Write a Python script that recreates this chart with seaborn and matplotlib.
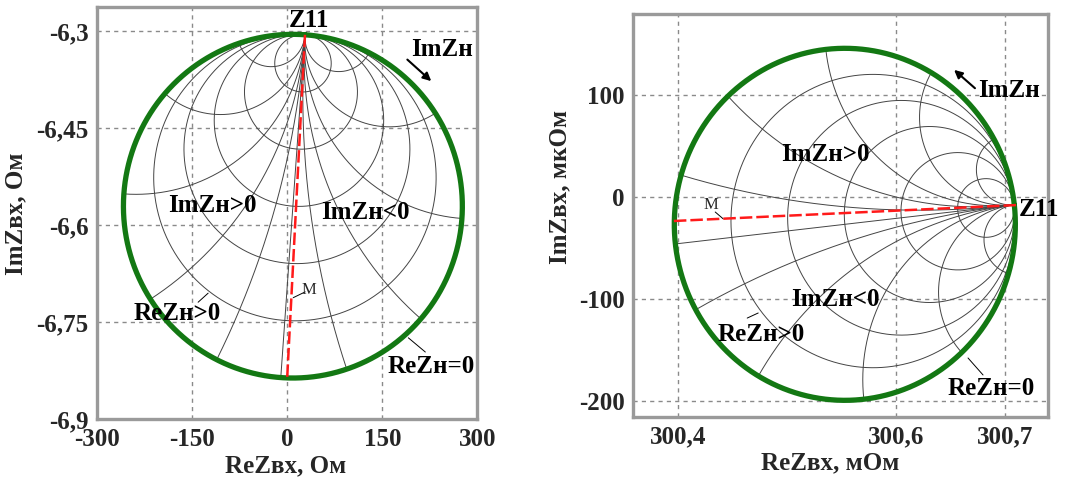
import numpy as np
import matplotlib
matplotlib.use("Agg")
import matplotlib.pyplot as plt
import seaborn as sns

# circle of ReZн = 0 for each panel: centre, half-axes (data units), direction of Z11 (deg)
left_center = (9.0, -6.5705)
left_radius = (267.3, 0.2657)
left_z11_angle = 85.9
right_center = (300.5531, -26.9)
right_radius = (0.1567, 172.9)
right_z11_angle = 6.4

# grid levels of the load impedance (normalised)
re_levels = [0.2, 0.5, 1, 2, 5]
im_levels = [-5, -2, -1, -0.5, -0.2, 0, 0.2, 0.5, 1, 2, 5]

# red line Z11 -> M
left_red_x = [28.1, 0.0]
left_red_y = [-6.3055, -6.836]
right_red_x = [300.7104, 300.3945]
right_red_y = [-8.0, -23.7]

# axes
left_xticks = [-300, -150, 0, 150, 300]
left_xticklabels = ["-300", "-150", "0", "150", "300"]
left_yticks = [-6.3, -6.45, -6.6, -6.75, -6.9]
left_yticklabels = ["-6,3", "-6,45", "-6,6", "-6,75", "-6,9"]
right_xticks = [300.4, 300.6, 300.7]
right_xticklabels = ["300,4", "300,6", "300,7"]
right_yticks = [100, 0, -100, -200]
right_yticklabels = ["100", "0", "-100", "-200"]

GREEN = "#137813"
RED = "#ff1a1a"
GRIDC = "#8a8a8a"
ARC = "#444444"
FS = 18


def to_plot(z, center, radius, angle):
    g = (z - 1) / (z + 1)
    w = g * np.exp(1j * np.deg2rad(angle))
    return center[0] + radius[0] * w.real, center[1] + radius[1] * w.imag


def draw_smith(ax, center, radius, angle):
    t = np.linspace(-np.pi / 2 + 1e-4, np.pi / 2 - 1e-4, 700)
    for r in re_levels:
        x, y = to_plot(r + 1j * np.tan(t), center, radius, angle)
        ax.plot(x, y, color=ARC, lw=0.7, zorder=2)
    s = np.linspace(0, np.pi / 2 - 1e-4, 500)
    for xi in im_levels:
        x, y = to_plot(np.tan(s) + 1j * xi, center, radius, angle)
        ax.plot(x, y, color=ARC, lw=0.7, zorder=2)
    x, y = to_plot(0 + 1j * np.tan(t), center, radius, angle)
    sns.lineplot(x=x, y=y, sort=False, estimator=None, color=GREEN, lw=3.8,
                 ax=ax, zorder=4)


def style_axes(ax, xlim, ylim, xticks, xlabels, yticks, ylabels):
    ax.set_xlim(*xlim)
    ax.set_ylim(*ylim)
    ax.set_xticks(xticks)
    ax.set_xticklabels(xlabels)
    ax.set_yticks(yticks)
    ax.set_yticklabels(ylabels)
    ax.tick_params(length=0, labelsize=FS, pad=6)
    for lab in ax.get_xticklabels() + ax.get_yticklabels():
        lab.set_fontweight("bold")
    ax.grid(True, color=GRIDC, lw=1.0, ls=(0, (3, 3)))
    ax.set_axisbelow(True)
    for sp in ax.spines.values():
        sp.set_color("#9a9a9a")
        sp.set_linewidth(2.4)


sns.set_theme(style="white")
plt.rcParams["font.family"] = ["Liberation Serif", "DejaVu Serif"]

fig = plt.figure(figsize=(10.67, 4.83), dpi=100)
ax1 = fig.add_axes([0.0909, 0.1319, 0.3565, 0.8530])
ax2 = fig.add_axes([0.5932, 0.1366, 0.3890, 0.8344])

bold = dict(fontsize=FS, fontweight="bold", color="black", zorder=6)

# ---- left panel
style_axes(ax1, (-300, 300), (-6.9, -6.263), left_xticks, left_xticklabels,
           left_yticks, left_yticklabels)
draw_smith(ax1, left_center, left_radius, left_z11_angle)
sns.lineplot(x=left_red_x, y=left_red_y, sort=False, estimator=None, color=RED,
             lw=1.8, ax=ax1, zorder=5).lines[-1].set_dashes((5, 1.6))
ax1.set_xlabel("ReZвх, Ом", fontsize=FS, fontweight="bold")
ax1.set_ylabel("ImZвх, Ом", fontsize=FS, fontweight="bold")
ax1.xaxis.set_label_coords(0.495, -0.085)
ax1.yaxis.set_label_coords(-0.183, 0.5)

ax1.text(34.8, -6.284, "Z11", ha="center", va="center", **bold)
ax1.text(244.8, -6.329, "ImZн", ha="center", va="center", **bold)
ax1.annotate("", xy=(230.5, -6.380), xytext=(186.3, -6.341),
             arrowprops=dict(arrowstyle="-|>", color="black", lw=1.5,
                             mutation_scale=12))
ax1.text(-118.4, -6.570, "ImZн>0", ha="center", va="center", **bold)
ax1.text(123.2, -6.581, "ImZн<0", ha="center", va="center", **bold)
ax1.text(-173.7, -6.736, "ReZн>0", ha="center", va="center", **bold)
ax1.plot([-140.5, -124.7], [-6.719, -6.705], color="black", lw=0.7)
ax1.text(34.8, -6.700, "M", ha="center", va="center", fontsize=12)
ax1.plot([9.5, 28.4], [-6.712, -6.703], color="black", lw=0.7)
ax1.text(227.4, -6.819, "ReZн=0", ha="center", va="center", **bold)
ax1.plot([191.1, 217.9], [-6.774, -6.796], color="black", lw=0.7)

# ---- right panel
style_axes(ax2, (300.3584, 300.7398), (-216.2, 179.7), right_xticks,
           right_xticklabels, right_yticks, right_yticklabels)
draw_smith(ax2, right_center, right_radius, right_z11_angle)
sns.lineplot(x=right_red_x, y=right_red_y, sort=False, estimator=None, color=RED,
             lw=1.8, ax=ax2, zorder=5).lines[-1].set_dashes((5, 1.6))
ax2.set_xlabel("ReZвх, мОм", fontsize=FS, fontweight="bold")
ax2.set_ylabel("ImZвх, мкОм", fontsize=FS, fontweight="bold")
ax2.xaxis.set_label_coords(0.475, -0.086)
ax2.yaxis.set_label_coords(-0.148, 0.571)

t = ax2.text(300.7315, -11.9, "Z11", ha="center", va="center", **bold)
t.set_clip_on(False)
ax2.text(300.704, 105, "ImZн", ha="center", va="center", **bold)
ax2.annotate("", xy=(300.6516, 126.6), xytext=(300.6746, 105),
             arrowprops=dict(arrowstyle="-|>", color="black", lw=1.5,
                             mutation_scale=12))
ax2.text(300.535, 42.1, "ImZн>0", ha="center", va="center", **bold)
ax2.text(300.5442, -100.3, "ImZн<0", ha="center", va="center", **bold)
ax2.text(300.4762, -134.7, "ReZн>0", ha="center", va="center", **bold)
ax2.plot([300.4634, 300.4735], [-119, -114], color="black", lw=0.7)
ax2.text(300.4303, -8, "M", ha="center", va="center", fontsize=12)
ax2.plot([300.434, 300.4413], [-14.8, -21.5], color="black", lw=0.7)
ax2.text(300.6874, -187.7, "ReZн=0", ha="center", va="center", **bold)
ax2.plot([300.6663, 300.6801], [-158.2, -174.9], color="black", lw=0.7)

fig.savefig("out.png", dpi=100)
